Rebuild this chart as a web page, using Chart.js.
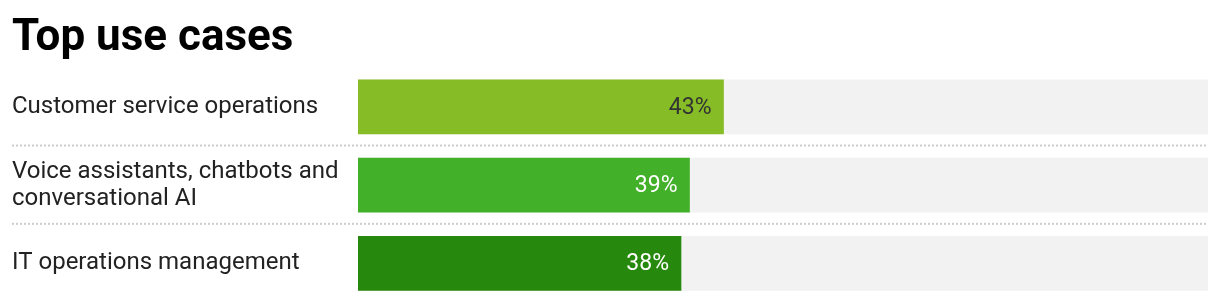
<!DOCTYPE html>
<html>
<head>
<meta charset="utf-8">
<script src="https://cdn.jsdelivr.net/npm/chart.js@4"></script>
<style>
  html, body { margin: 0; padding: 0; background: #fff; overflow: hidden; }
  #wrap { position: relative; width: 1220px; height: 316px; }
</style>
</head>
<body>
<div id="wrap"><canvas id="c"></canvas></div>
<script>
const titleText = "Top use cases";
const categories = [
  "Customer service operations",
  ["Voice assistants, chatbots and", "conversational AI"],
  "IT operations management"
];
const values = [43, 39, 38];
const trackValues = [100, 100, 100];
const barColors = ["#86bc25", "#43b02a", "#26890d"];
const valueLabelColors = ["#333333", "#ffffff", "#ffffff"];

const FONT = "Roboto, 'Liberation Sans', sans-serif";

const separatorPlugin = {
  id: "separators",
  beforeDatasetsDraw(chart) {
    const { ctx } = chart;
    const y = chart.scales.y;
    const left = chart.options.layout.padding.left;
    const right = chart.chartArea.right;
    ctx.save();
    ctx.strokeStyle = "#cccccc";
    ctx.lineWidth = 2;
    ctx.setLineDash([2, 2]);
    for (let i = 0; i < categories.length - 1; i++) {
      const yy = (y.getPixelForValue(i) + y.getPixelForValue(i + 1)) / 2 - 0.5;
      ctx.beginPath();
      ctx.moveTo(left, yy);
      ctx.lineTo(right, yy);
      ctx.stroke();
    }
    ctx.restore();
  }
};

const valueLabelPlugin = {
  id: "valueLabels",
  afterDatasetsDraw(chart) {
    const { ctx } = chart;
    const meta = chart.getDatasetMeta(1);
    ctx.save();
    ctx.font = "23px " + FONT;
    ctx.textAlign = "right";
    ctx.textBaseline = "middle";
    meta.data.forEach((bar, i) => {
      ctx.fillStyle = valueLabelColors[i];
      ctx.fillText(values[i] + "%", bar.x - 12, bar.y + 1);
    });
    ctx.restore();
  }
};

new Chart(document.getElementById("c"), {
  type: "bar",
  data: {
    labels: categories,
    datasets: [
      {
        data: trackValues,
        backgroundColor: "#f2f2f2",
        grouped: false,
        order: 2,
        barThickness: 54
      },
      {
        data: values,
        backgroundColor: barColors,
        grouped: false,
        order: 1,
        barThickness: 54
      }
    ]
  },
  options: {
    indexAxis: "y",
    responsive: true,
    maintainAspectRatio: false,
    animation: false,
    layout: { padding: { left: 12, right: 12, top: 0, bottom: 8 } },
    plugins: {
      legend: { display: false },
      tooltip: { enabled: false },
      title: {
        display: true,
        text: titleText,
        align: "start",
        color: "#000",
        font: { family: FONT, size: 44, weight: "bold" },
        padding: { top: 13, bottom: 2 }
      }
    },
    scales: {
      x: { display: false, min: 0, max: 100 },
      y: {
        offset: true,
        grid: { display: false },
        border: { display: false },
        afterFit(scale) { scale.width = 346; },
        ticks: {
          crossAlign: "far",
          padding: 0,
          color: "#222",
          font: { family: FONT, size: 24, lineHeight: 1.12 }
        }
      }
    }
  },
  plugins: [separatorPlugin, valueLabelPlugin]
});
</script>
</body>
</html>
